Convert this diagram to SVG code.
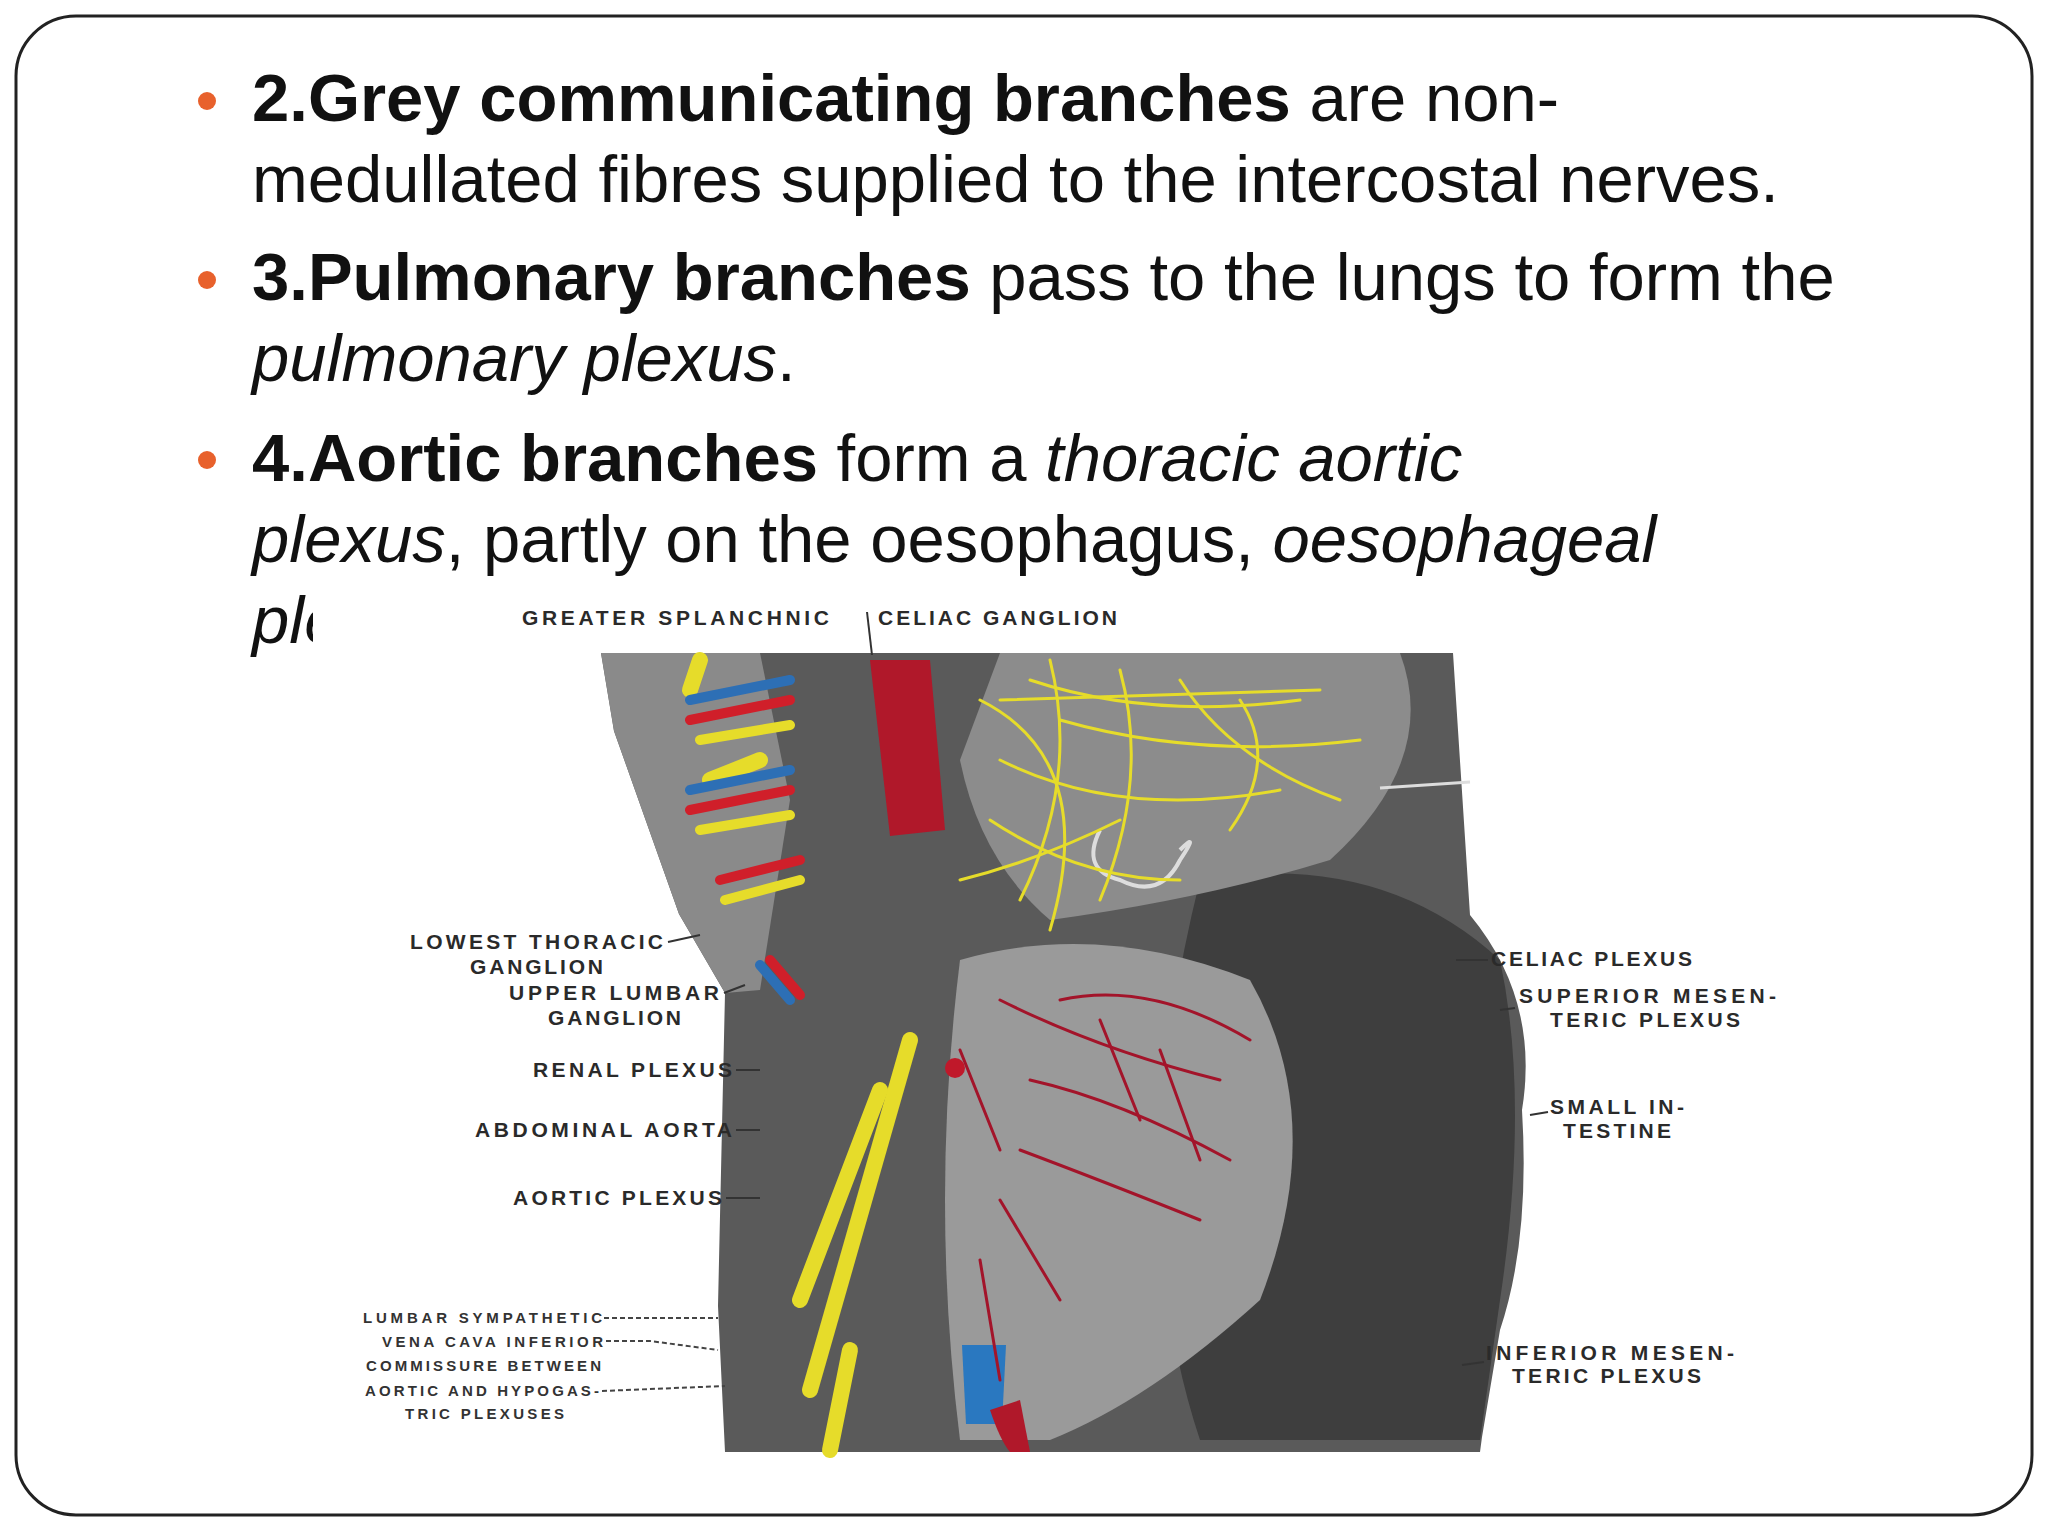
<svg xmlns="http://www.w3.org/2000/svg" width="2048" height="1536" viewBox="0 0 2048 1536">
<style>
.t{font-family:"Liberation Sans",Arial,sans-serif;font-size:67px;fill:#111}
.b{font-weight:bold}
.i{font-style:italic}
.l{font-family:"Liberation Sans",Arial,sans-serif;font-size:21px;font-weight:bold;fill:#2a2a2a;letter-spacing:3px}
.s{font-family:"Liberation Sans",Arial,sans-serif;font-size:15px;font-weight:bold;fill:#333;letter-spacing:1px}
.ld{stroke:#333;stroke-width:2;fill:none}
.dl{stroke:#444;stroke-width:2;fill:none;stroke-dasharray:5 3}
.y{stroke:#e6dc2a;fill:none;stroke-linecap:round}
.r{stroke:#a3142a;fill:none;stroke-linecap:round}
</style>
<rect width="2048" height="1536" fill="#fff"/>
<rect x="16" y="16" width="2016" height="1499" rx="60" fill="#fff" stroke="#222" stroke-width="3"/>
<g fill="#e8612c"><circle cx="207" cy="101" r="9"/><circle cx="207" cy="280" r="9"/><circle cx="207" cy="460" r="9"/></g>
<text class="t" x="252" y="121"><tspan class="b">2.Grey communicating branches</tspan> are non-</text>
<text class="t" x="252" y="202">medullated fibres supplied to the intercostal nerves.</text>
<text class="t" x="252" y="300"><tspan class="b">3.Pulmonary branches</tspan> pass to the lungs to form the</text>
<text class="t i" x="252" y="381">pulmonary plexus<tspan font-style="normal">.</tspan></text>
<text class="t" x="252" y="481"><tspan class="b">4.Aortic branches</tspan> form a <tspan class="i">thoracic aortic</tspan></text>
<text class="t" x="252" y="562"><tspan class="i">plexus</tspan>, partly on the oesophagus, <tspan class="i">oesophageal</tspan></text>
<text class="t i" x="252" y="643">ple</text>
<!-- illustration -->
<rect x="313" y="594" width="1150" height="862" fill="#fff"/>
<g id="illustration">
<path d="M601 653 L1453 653 L1470 915 Q1540 1000 1522 1110 Q1530 1240 1500 1330 L1482 1437 L1480 1452 L725 1452 L718 1306 L725 993 L679 914 L614 731 Z" fill="#5a5a5a"/>
<path d="M601 653 L760 653 L790 800 L760 990 L725 993 L679 914 L614 731 Z" fill="#8a8a8a"/>
<path d="M1200 880 Q1380 850 1500 960 Q1530 1100 1500 1300 L1480 1440 L1200 1440 Q1120 1200 1200 880 Z" fill="#3e3e3e"/>
<path d="M960 960 Q1100 920 1250 980 Q1330 1120 1260 1300 Q1150 1400 1050 1440 L960 1440 Q930 1200 960 960 Z" fill="#9a9a9a"/>
<path d="M1000 653 L1400 653 Q1440 760 1330 860 Q1200 900 1050 920 Q980 860 960 760 Z" fill="#8c8c8c"/>
<path d="M1100 830 Q1080 870 1120 880 Q1160 900 1180 860 Q1200 830 1180 850" fill="none" stroke="#ddd" stroke-width="4"/>
<g class="y" stroke-width="3">
<path d="M980 700 Q1100 760 1050 930"/><path d="M1030 680 Q1150 720 1300 700"/><path d="M1060 720 Q1200 760 1360 740"/>
<path d="M1000 760 Q1120 820 1280 790"/><path d="M1050 660 Q1080 780 1020 900"/><path d="M1120 670 Q1150 780 1100 900"/>
<path d="M1180 680 Q1230 760 1340 800"/><path d="M990 820 Q1080 880 1180 880"/><path d="M1240 700 Q1280 760 1230 830"/>
<path d="M1000 700 L1320 690"/><path d="M960 880 Q1040 860 1120 820"/>
</g>
<g class="y" stroke-width="16">
<path d="M910 1040 L810 1390"/><path d="M880 1090 L800 1300"/><path d="M850 1350 L830 1450"/>
<path d="M700 660 L690 690"/><path d="M710 780 L760 760"/>
</g>
<g stroke-width="10" fill="none" stroke-linecap="round">
<path d="M690 700 L790 680" stroke="#2d6fb5"/><path d="M690 720 L790 700" stroke="#d01f2a"/><path d="M700 740 L790 725" stroke="#e6dc2a"/>
<path d="M690 790 L790 770" stroke="#2d6fb5"/><path d="M690 810 L790 790" stroke="#d01f2a"/><path d="M700 830 L790 815" stroke="#e6dc2a"/>
<path d="M720 880 L800 860" stroke="#d01f2a"/><path d="M725 900 L800 880" stroke="#e6dc2a"/>
<path d="M760 965 L790 1000" stroke="#2d6fb5"/><path d="M770 960 L800 995" stroke="#d01f2a"/>
</g>
<path d="M870 660 L930 660 L945 830 L890 836 Z" fill="#b0182a"/>
<path d="M962 1345 L1006 1345 L1002 1424 L966 1424 Z" fill="#2a78c0"/>
<path d="M990 1410 Q1000 1440 1010 1452 L1030 1452 L1020 1400 Z" fill="#b0182a"/>
<g class="r" stroke-width="3">
<path d="M1000 1000 Q1100 1050 1220 1080"/><path d="M1030 1080 Q1120 1100 1230 1160"/><path d="M1020 1150 Q1100 1180 1200 1220"/>
<path d="M1100 1020 L1140 1120"/><path d="M1160 1050 L1200 1160"/><path d="M1000 1200 L1060 1300"/><path d="M980 1260 L1000 1380"/>
<path d="M960 1050 L1000 1150"/><path d="M1060 1000 Q1150 980 1250 1040"/>
</g>
<circle cx="955" cy="1068" r="10" fill="#c0182a"/>
<path d="M1380 788 L1470 782" stroke="#ddd" stroke-width="3"/>
</g>
<g id="labels">
<text class="l" x="522" y="625" textLength="310">GREATER SPLANCHNIC</text>
<text class="l" x="878" y="625" textLength="242">CELIAC GANGLION</text>
<path class="ld" d="M867 612 L872 655"/>
<text class="l" x="410" y="949" textLength="256">LOWEST THORACIC</text>
<text class="l" x="470" y="974" textLength="136">GANGLION</text>
<text class="l" x="509" y="1000" textLength="213">UPPER LUMBAR</text>
<text class="l" x="548" y="1025" textLength="136">GANGLION</text>
<text class="l" x="533" y="1077" textLength="202">RENAL PLEXUS</text>
<text class="l" x="475" y="1137" textLength="260">ABDOMINAL AORTA</text>
<text class="l" x="513" y="1205" textLength="212">AORTIC PLEXUS</text>
<path class="ld" d="M668 942 L700 935 M724 993 L745 985 M736 1070 L760 1070 M736 1130 L760 1130 M726 1198 L760 1198"/>
<text class="s" x="363" y="1323" textLength="240">LUMBAR SYMPATHETIC</text>
<text class="s" x="382" y="1347" textLength="222">VENA CAVA INFERIOR</text>
<text class="s" x="366" y="1371" textLength="236">COMMISSURE BETWEEN</text>
<text class="s" x="365" y="1396" textLength="235">AORTIC AND HYPOGAS-</text>
<text class="s" x="405" y="1419" textLength="160">TRIC PLEXUSES</text>
<path class="dl" d="M604 1318 L718 1318 M606 1341 L650 1341 L718 1350 M602 1391 L725 1386"/>
<text class="l" x="1491" y="966" textLength="204">CELIAC PLEXUS</text>
<text class="l" x="1519" y="1003" textLength="260">SUPERIOR MESEN-</text>
<text class="l" x="1550" y="1027" textLength="193">TERIC PLEXUS</text>
<text class="l" x="1550" y="1114" textLength="137">SMALL IN-</text>
<text class="l" x="1563" y="1138" textLength="111">TESTINE</text>
<text class="l" x="1486" y="1360" textLength="251">INFERIOR MESEN-</text>
<text class="l" x="1512" y="1383" textLength="192">TERIC PLEXUS</text>
<path class="ld" d="M1456 960 L1488 960 M1500 1010 L1515 1008 M1530 1115 L1548 1112 M1462 1365 L1484 1362"/>
</g>
</svg>
